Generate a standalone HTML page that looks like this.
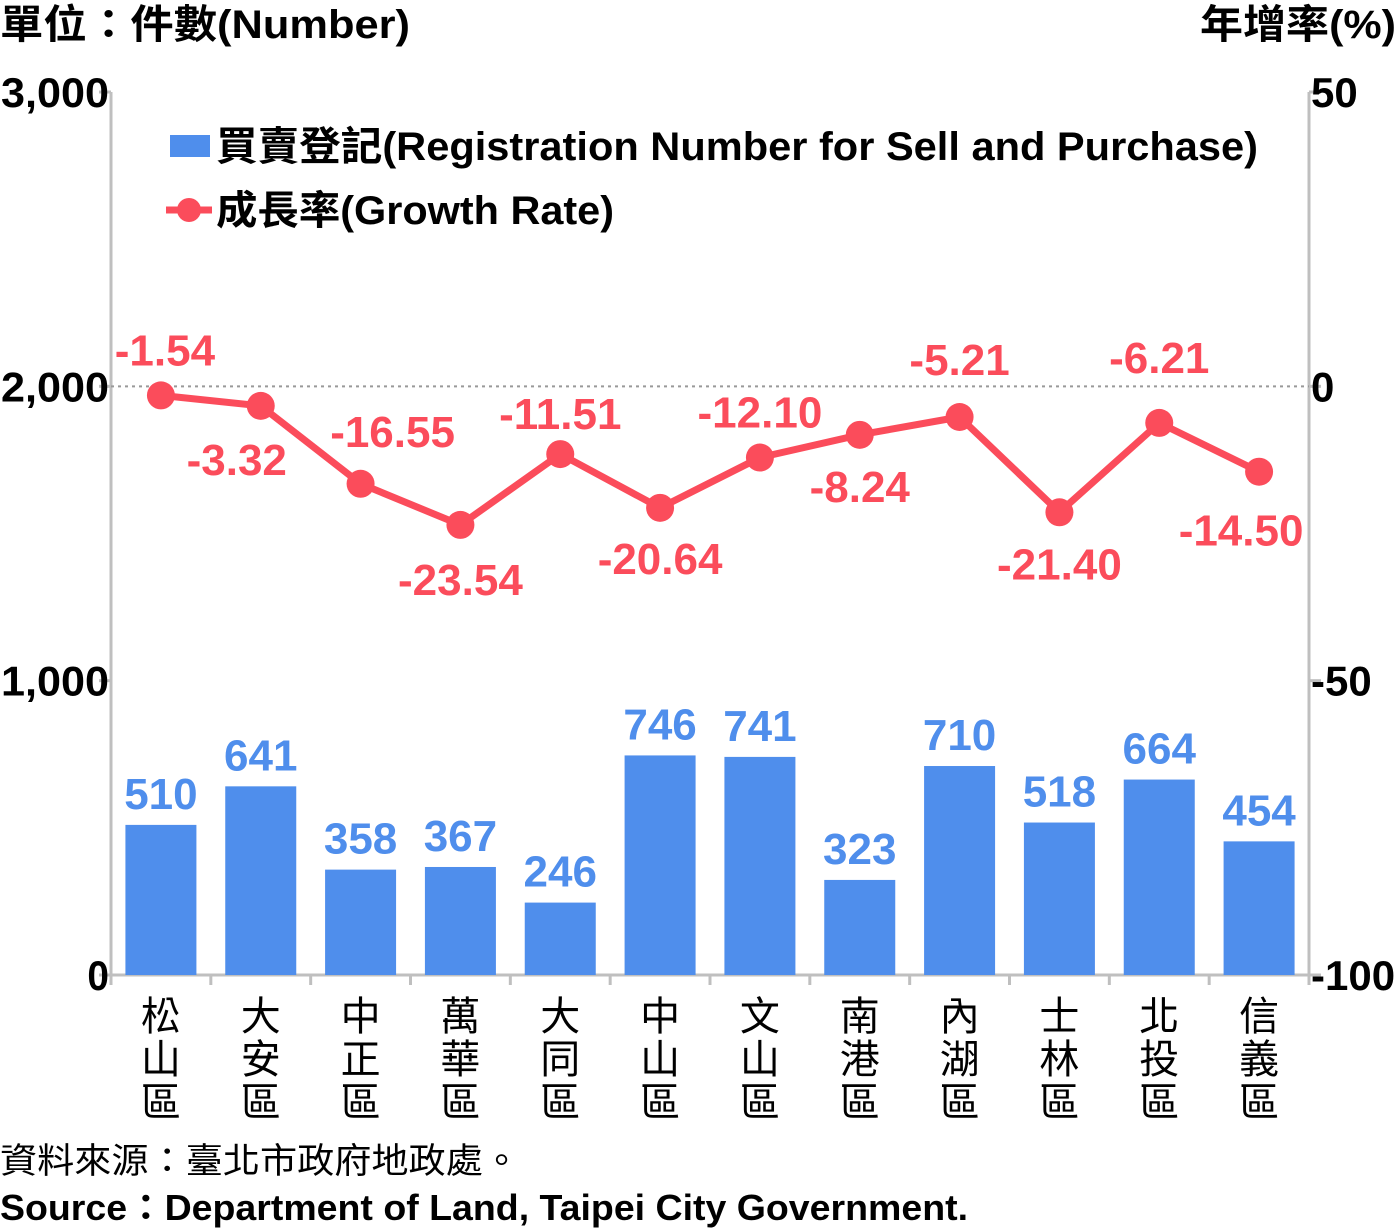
<!DOCTYPE html>
<html><head><meta charset="utf-8"><style>
body{margin:0;background:#fff}
svg{display:block;font-family:"Liberation Sans","Noto Sans CJK TC",sans-serif;font-weight:bold}
</style></head><body>
<svg id="c" width="1396" height="1229">
<text x="0" y="38" font-size="40" textLength="410" lengthAdjust="spacingAndGlyphs">單位：件數(Number)</text>
<text x="1200" y="38" font-size="40" textLength="196" lengthAdjust="spacingAndGlyphs">年增率(%)</text>
<g id="axes"></g><g id="bars"></g><g id="line"></g>
<g>
<rect x="170" y="135" width="40" height="22" fill="#4f8eec"/>
<text x="216" y="160" font-size="40" textLength="1042" lengthAdjust="spacingAndGlyphs">買賣登記(Registration Number for Sell and Purchase)</text>
<line x1="166" y1="210" x2="212" y2="210" stroke="#fb4c5b" stroke-width="7"/>
<circle cx="189" cy="210" r="12" fill="#fb4c5b"/>
<text x="216" y="224" font-size="40" textLength="398" lengthAdjust="spacingAndGlyphs">成長率(Growth Rate)</text>
</g>
<text x="0" y="1173" font-size="35" font-weight="normal" textLength="520" lengthAdjust="spacingAndGlyphs">資料來源：臺北市政府地政處。</text>
<text x="0" y="1220" font-size="36" textLength="968" lengthAdjust="spacingAndGlyphs">Source：Department of Land, Taipei City Government.</text>
</svg>
<script>
const categories=["松山區","大安區","中正區","萬華區","大同區","中山區","文山區","南港區","內湖區","士林區","北投區","信義區"];
const counts=[510,641,358,367,246,746,741,323,710,518,664,454];
const rates=[-1.54,-3.32,-16.55,-23.54,-11.51,-20.64,-12.10,-8.24,-5.21,-21.40,-6.21,-14.50];
const leftTicks=[0,1000,2000,3000];
const leftTickLabels=["0","1,000","2,000","3,000"];
const rightTicks=[-100,-50,0,50];
const rightTickLabels=["-100","-50","0","50"];
const labelDx=[4,-24,32,0,0,0,0,0,0,0,0,-18];
const labelDy=[-30,69,-37,70,-25,66,-30,67,-42,67,-50,74];
const NS="http://www.w3.org/2000/svg";
const X0=111,X1=1309,YT=92,YB=975;
const yL=v=>YB-(v/3000)*(YB-YT);
const yR=v=>YB-((v+100)/150)*(YB-YT);
const band=(X1-X0)/categories.length;
const xC=i=>X0+band*(i+0.5);
function mk(t,a,p){const e=document.createElementNS(NS,t);for(const k in a)e.setAttribute(k,a[k]);p.appendChild(e);return e;}
const ax=document.getElementById('axes');
let e=mk('line',{x1:X0,y1:YT,x2:X0,y2:YB,stroke:'#bfbfbf','stroke-width':3},ax);


e=mk('line',{x1:X1,y1:YT,x2:X1,y2:YB,stroke:'#bfbfbf','stroke-width':3},ax);


e=mk('line',{x1:X0,y1:YB,x2:X1,y2:YB,stroke:'#bfbfbf','stroke-width':3},ax);


e=mk('line',{x1:X0,y1:yR(0),x2:X1,y2:yR(0),stroke:'#999','stroke-width':2,'stroke-dasharray':'3,4'},ax);


leftTicks.forEach((v,i)=>{
 mk('line',{x1:X0-12,y1:yL(v),x2:X0,y2:yL(v),stroke:'#bfbfbf','stroke-width':3},ax);
 const t=mk('text',{x:X0-2,y:yL(v)+15,'font-size':42,'text-anchor':'end',textLength:leftTickLabels[i].length*21.6,lengthAdjust:'spacingAndGlyphs'},ax);t.textContent=leftTickLabels[i];
 
 
});
rightTicks.forEach((v,i)=>{
 mk('line',{x1:X1,y1:yR(v),x2:X1+12,y2:yR(v),stroke:'#bfbfbf','stroke-width':3},ax);
 const t=mk('text',{x:X1+2,y:yR(v)+15,'font-size':42},ax);t.textContent=rightTickLabels[i];
 
 
});
for(let i=0;i<=categories.length;i++){mk('line',{x1:X0+band*i,y1:YB,x2:X0+band*i,y2:YB+10,stroke:'#bfbfbf','stroke-width':3},ax);}
const bg=document.getElementById('bars');
counts.forEach((v,i)=>{
 const r=mk('rect',{x:xC(i)-35.5,y:yL(v),width:71,height:YB-yL(v),fill:'#4f8eec'},bg);
 
 
 const t=mk('text',{x:xC(i),y:yL(v)-16,'font-size':44,'text-anchor':'middle',fill:'#4f8eec'},bg);t.textContent=v;
 
 
 [...categories[i]].forEach((ch,k)=>{
  const c=mk('text',{x:xC(i),y:1030+k*43,'font-size':40,'font-weight':'normal','text-anchor':'middle'},bg);c.textContent=ch;
  
  
 });
});
const lg=document.getElementById('line');
const p=mk('polyline',{points:rates.map((v,i)=>xC(i)+','+yR(v)).join(' '),fill:'none',stroke:'#fb4c5b','stroke-width':7,'stroke-linejoin':'round'},lg);


rates.forEach((v,i)=>{
 const c=mk('circle',{cx:xC(i),cy:yR(v),r:14,fill:'#fb4c5b'},lg);
 
 
 const t=mk('text',{x:xC(i)+labelDx[i],y:yR(v)+labelDy[i],'font-size':44,'text-anchor':'middle',fill:'#fb4c5b'},lg);t.textContent=v.toFixed(2);
 
 
});
</script>
</body></html>
